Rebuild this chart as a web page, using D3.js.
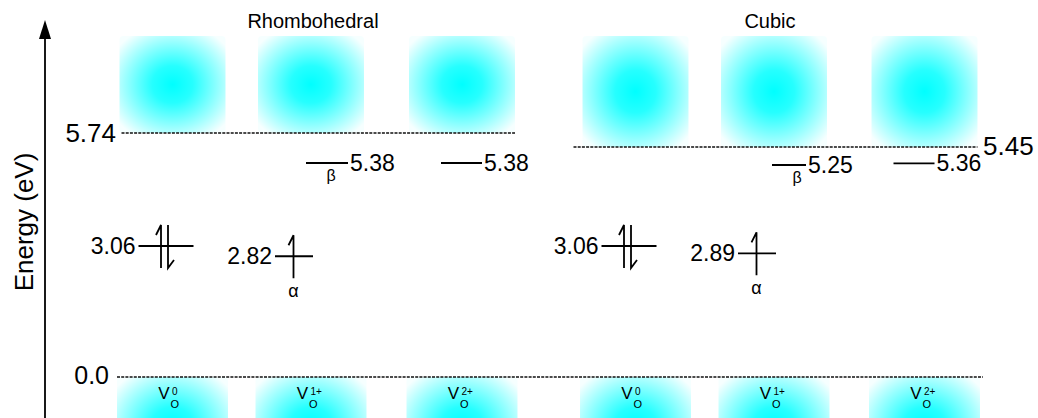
<!DOCTYPE html>
<html>
<head>
<meta charset="utf-8">
<script src="https://cdn.jsdelivr.net/npm/d3@7"></script>
<style>
  body { margin: 0; background: #fff; }
  svg { display: block; }
  text { font-family: Arial, "Liberation Sans", Helvetica, sans-serif; fill: #000; }
</style>
</head>
<body>
<svg id="chart" width="1038" height="418"></svg>
<script>
// ---- data -------------------------------------------------------------
const phases = ["Rhombohedral", "Cubic"];
const charges = ["0", "1+", "2+"];
const cbmLevels = [5.74, 5.45];          // conduction band minimum (eV)
const vbmLevel = 0.0;                    // valence band maximum (eV)
const deepRhombohedral = [3.06, 2.82, null];
const deepCubic = [3.06, 2.89, null];
const shallowRhombohedral = [null, 5.38, 5.38];
const shallowCubic = [null, 5.25, 5.36];
const deepSpin = ["paired", "alpha", null];
const shallowSpin = [null, "beta", null];
const axisTitle = "Energy (eV)";

const deepLevels = [deepRhombohedral, deepCubic];
const shallowLevels = [shallowRhombohedral, shallowCubic];

// ---- scales -----------------------------------------------------------
const W = 1038, H = 418;
const svg = d3.select("#chart");

// schematic energy ladder: piecewise-linear so near-band levels stay legible
const y = d3.scaleLinear()
  .domain([0, 3.06, 5.25, 5.38, 5.45, 5.74])
  .range([377, 246, 165, 163, 147, 133]);

const colKeys = phases.flatMap(p => charges.map(c => p + "|" + c));
const x = d3.scaleOrdinal()
  .domain(colKeys)
  .range([172.5, 311, 462, 635.5, 774, 924.5]);

// ---- gradients --------------------------------------------------------
const defs = svg.append("defs");
const glow = defs.append("radialGradient").attr("id", "glow")
  .attr("cx", 0.5).attr("cy", 0.5).attr("r", 0.64);
[[0, "#00ffff"], [0.3, "#26ffff"], [0.72, "#a2ffff"], [1, "#f6ffff"]]
  .forEach(([o, c]) => glow.append("stop").attr("offset", o).attr("stop-color", c));

// ---- band blocks ------------------------------------------------------
const topY = 36, blockW = 106, vbW = 111, vbH = 98;
phases.forEach((p, i) => {
  charges.forEach(c => {
    const cx = x(p + "|" + c);
    svg.append("rect")
      .attr("x", cx - blockW / 2).attr("y", topY)
      .attr("width", blockW).attr("height", y(cbmLevels[i]) - topY)
      .attr("rx", 4).attr("fill", "url(#glow)");
    svg.append("rect")
      .attr("x", cx - vbW / 2).attr("y", y(vbmLevel))
      .attr("width", vbW).attr("height", vbH)
      .attr("rx", 4).attr("fill", "url(#glow)");
  });
});

// ---- band edges (dashed) ---------------------------------------------
function dashed(x1, x2, yy) {
  svg.append("line").attr("x1", x1).attr("x2", x2).attr("y1", yy).attr("y2", yy)
    .attr("stroke", "#111").attr("stroke-width", 1.3).attr("stroke-dasharray", "3,1.2");
}
phases.forEach((p, i) => {
  const x1 = x(p + "|" + charges[0]) - blockW / 2 + (i === 0 ? 2 : -9);
  const x2 = x(p + "|" + charges[2]) + blockW / 2;
  dashed(x1, x2, y(cbmLevels[i]));
});
dashed(x(colKeys[0]) - vbW / 2, x(colKeys[5]) + vbW / 2 + 3, y(vbmLevel));

svg.append("text").attr("x", 116).attr("y", y(cbmLevels[0]) + 9)
  .attr("text-anchor", "end").attr("font-size", 26).text(cbmLevels[0].toFixed(2));
svg.append("text").attr("x", 983).attr("y", y(cbmLevels[1]) + 8)
  .attr("font-size", 26).text(cbmLevels[1].toFixed(2));
svg.append("text").attr("x", 109).attr("y", y(vbmLevel) + 7)
  .attr("text-anchor", "end").attr("font-size", 25).text(vbmLevel.toFixed(1));

// ---- phase titles -----------------------------------------------------
phases.forEach((p, i) => {
  svg.append("text").attr("x", x(p + "|" + charges[1]) + (i === 0 ? 2 : -4)).attr("y", 28)
    .attr("text-anchor", "middle").attr("font-size", 20).text(p);
});

// ---- defect levels ----------------------------------------------------
const lineStyle = l => l.attr("stroke", "#000").attr("stroke-width", 1.8).attr("fill", "none");
function levelLine(x1, x2, yy) {
  lineStyle(svg.append("line").attr("x1", x1).attr("x2", x2).attr("y1", yy).attr("y2", yy));
}
function upArrow(ax, yy) {
  lineStyle(svg.append("path").attr("d", `M${ax},${yy + 22}V${yy - 21}L${ax - 5},${yy - 11}`));
}
function downArrow(ax, yy) {
  lineStyle(svg.append("path").attr("d", `M${ax},${yy - 21}V${yy + 22}L${ax + 6},${yy + 14}`));
}

// offsets of each level mark around its column centre, per phase
const deepGeom = [{ a: -34, b: 21 }, { a: -36, b: 2 }];
const shallowGeom = [
  [null, { a: -5, b: 37 }, { a: -21, b: 20 }],
  [null, { a: -2, b: 32 }, { a: -31, b: 10 }]
];

phases.forEach((p, i) => {
  charges.forEach((c, j) => {
    const cx = x(p + "|" + c);
    const dv = deepLevels[i][j];
    if (dv != null) {
      const g = deepGeom[j], yy = y(dv);
      levelLine(cx + g.a, cx + g.b, yy);
      svg.append("text").attr("x", cx + g.a - 3).attr("y", yy + 8)
        .attr("text-anchor", "end").attr("font-size", 23).text(dv.toFixed(2));
      if (deepSpin[j] === "paired") {
        upArrow(cx - 11.5, yy);
        downArrow(cx - 4.5, yy);
      } else if (deepSpin[j] === "alpha") {
        upArrow(cx - 17.5, yy);
        svg.append("text").attr("x", cx - 17.5).attr("y", yy + 41)
          .attr("text-anchor", "middle").attr("font-size", 18).text("α");
      }
    }
    const sv = shallowLevels[i][j];
    if (sv != null) {
      const g = shallowGeom[i][j], yy = y(sv);
      levelLine(cx + g.a, cx + g.b, yy);
      svg.append("text").attr("x", cx + g.b + 2).attr("y", yy + 8)
        .attr("font-size", 23).text(sv.toFixed(2));
      if (shallowSpin[j] === "beta") {
        svg.append("text").attr("x", cx + g.a + 25).attr("y", yy + 18)
          .attr("text-anchor", "middle").attr("font-size", 16).text("β");
      }
    }

    // vacancy label inside the valence-band block
    const y0 = y(vbmLevel);
    svg.append("text").attr("x", cx - 3).attr("y", y0 + 22)
      .attr("text-anchor", "end").attr("font-size", 17).text("V");
    svg.append("text").attr("x", cx - 2).attr("y", y0 + 31)
      .attr("font-size", 11).text("O");
    svg.append("text").attr("x", cx - 0.5).attr("y", y0 + 18)
      .attr("font-size", 10).text(c);
  });
});

// ---- energy axis ------------------------------------------------------
svg.append("line").attr("x1", 45).attr("x2", 45).attr("y1", 36).attr("y2", H)
  .attr("stroke", "#000").attr("stroke-width", 1.8);
svg.append("path").attr("d", "M45,20L39,39L51,39Z").attr("fill", "#000");
svg.append("text").attr("transform", "translate(33,222) rotate(-90)")
  .attr("text-anchor", "middle").attr("font-size", 26).text(axisTitle);
</script>
</body>
</html>
